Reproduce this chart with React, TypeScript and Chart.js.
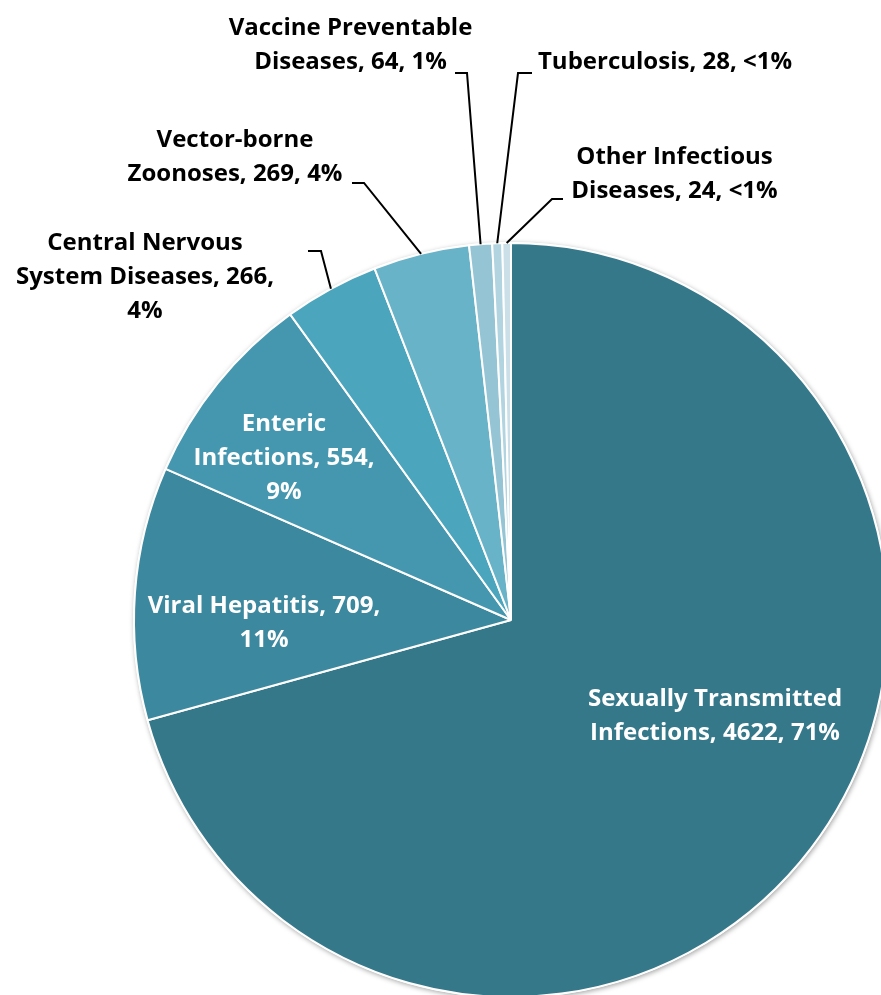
import React, { useEffect, useRef } from "react";
import { Chart, registerables } from "chart.js";

Chart.register(...registerables);

// ---- data ----
const CATEGORIES = [
  "Sexually Transmitted Infections",
  "Viral Hepatitis",
  "Enteric Infections",
  "Central Nervous System Diseases",
  "Vector-borne Zoonoses",
  "Vaccine Preventable Diseases",
  "Tuberculosis",
  "Other Infectious Diseases",
];
const COUNTS = [4622, 709, 554, 266, 269, 64, 28, 24];
const PERCENT_LABELS = ["71%", "11%", "9%", "4%", "4%", "1%", "<1%", "<1%"];
// words per line when wrapping "name, count, pct"
const WRAP_WORDS = [[2, 3], [3, 1], [1, 2, 1], [2, 3, 1], [1, 3], [2, 3], [3], [2, 3]];
const COLORS = [
  "#35788A",
  "#3C889E",
  "#4497AF",
  "#4AA5BD",
  "#69B3C9",
  "#95C4D5",
  "#B2D4E0",
  "#CADFE7",
];

// ---- label layout (units of pie radius, relative to pie centre) ----
type Layout = { cx: number; cy: number; inside: boolean; leader?: number[] };
const LABEL_LAYOUT: Layout[] = [
  { cx: 0.5411, cy: 0.256, inside: true },
  { cx: -0.6552, cy: 0.008, inside: true },
  { cx: -0.6021, cy: -0.4297, inside: true },
  { cx: -0.9708, cy: -0.9098, inside: false, leader: [-0.5385, -0.9788, -0.504, -0.9788] },
  { cx: -0.7321, cy: -1.2268, inside: false, leader: [-0.4218, -1.1592, -0.3899, -1.1592] },
  { cx: -0.4257, cy: -1.5252, inside: false, leader: [-0.1485, -1.4509, -0.1167, -1.4509] },
  { cx: 0.4085, cy: -1.4788, inside: false, leader: [0.0557, -1.4509, 0.0186, -1.4509] },
  { cx: 0.4337, cy: -1.183, inside: false, leader: [0.1379, -1.1167, 0.1088, -1.1167] },
];

const FONT = "bold 24px 'Open Sans', Lato, sans-serif";
const LINE_H = 34;

function wrapLabel(i: number): string[] {
  const words = `${CATEGORIES[i]}, ${COUNTS[i]}, ${PERCENT_LABELS[i]}`.split(" ");
  const lines: string[] = [];
  let k = 0;
  for (const n of WRAP_WORDS[i]) {
    lines.push(words.slice(k, k + n).join(" "));
    k += n;
  }
  return lines;
}

const shadowPlugin = {
  id: "pieShadow",
  beforeDatasetsDraw(chart: any) {
    const arc = chart.getDatasetMeta(0).data[0];
    if (!arc) return;
    const { x, y, outerRadius } = arc.getProps(["x", "y", "outerRadius"], true);
    const ctx = chart.ctx;
    ctx.save();
    ctx.shadowColor = "rgba(0,0,0,0.35)";
    ctx.shadowBlur = 5;
    ctx.shadowOffsetX = 1;
    ctx.shadowOffsetY = 1.5;
    ctx.fillStyle = "#ffffff";
    ctx.beginPath();
    ctx.arc(x, y, outerRadius + 1, 0, Math.PI * 2);
    ctx.fill();
    ctx.restore();
  },
};

const labelPlugin = {
  id: "pieLabels",
  afterDatasetsDraw(chart: any) {
    const meta = chart.getDatasetMeta(0);
    const ctx = chart.ctx;
    ctx.save();
    ctx.font = FONT;
    ctx.textAlign = "center";
    ctx.textBaseline = "middle";
    meta.data.forEach((arc: any, i: number) => {
      const { x, y, outerRadius, startAngle, endAngle } = arc.getProps(
        ["x", "y", "outerRadius", "startAngle", "endAngle"],
        true
      );
      const R = outerRadius;
      const lay = LABEL_LAYOUT[i];
      const lines = wrapLabel(i);
      const bx = x + lay.cx * R;
      const by = y + lay.cy * R;
      if (lay.leader) {
        const mid = (startAngle + endAngle) / 2;
        const ex = x + Math.cos(mid) * R;
        const ey = y + Math.sin(mid) * R;
        const [sx, sy, kx, ky] = lay.leader;
        ctx.strokeStyle = "#000000";
        ctx.lineWidth = 2;
        ctx.beginPath();
        ctx.moveTo(x + sx * R, y + sy * R);
        ctx.lineTo(x + kx * R, y + ky * R);
        ctx.lineTo(ex, ey);
        ctx.stroke();
      }
      ctx.fillStyle = lay.inside ? "#FFFFFF" : "#000000";
      lines.forEach((line, j) => {
        const ly = by + (j - (lines.length - 1) / 2) * LINE_H;
        ctx.fillText(line, bx, ly);
      });
    });
    ctx.restore();
  },
};

export default function App() {
  const ref = useRef<HTMLCanvasElement | null>(null);
  useEffect(() => {
    if (!ref.current) return;
    const chart = new Chart(ref.current, {
      type: "pie",
      data: {
        labels: CATEGORIES,
        datasets: [
          {
            data: COUNTS,
            backgroundColor: COLORS,
            borderColor: "#FFFFFF",
            borderWidth: 2,
          },
        ],
      },
      options: {
        responsive: false,
        animation: false,
        layout: { padding: { left: 133, right: 11, top: 242, bottom: 12 } },
        plugins: {
          legend: { display: false },
          tooltip: { enabled: false },
        },
      },
      plugins: [shadowPlugin, labelPlugin],
    });
    return () => chart.destroy();
  }, []);
  return (
    <div
      style={{
        position: "fixed",
        left: 0,
        top: 0,
        width: 881,
        height: 995,
        overflow: "hidden",
        background: "#ffffff",
      }}
    >
      <canvas ref={ref} width={900} height={1010} style={{ display: "block" }} />
    </div>
  );
}
